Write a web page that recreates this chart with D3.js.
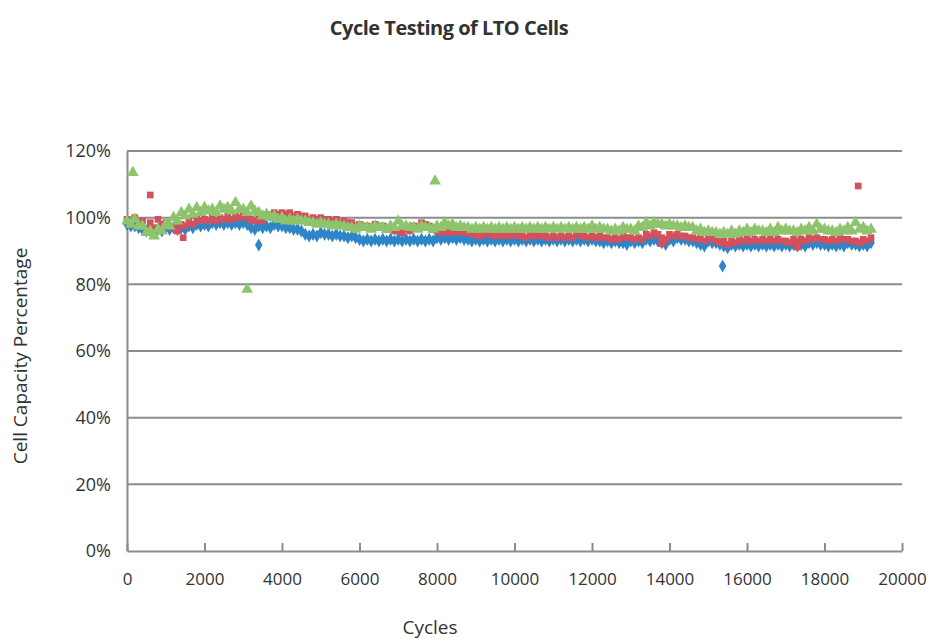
<!DOCTYPE html>
<html>
<head>
<meta charset="utf-8">
<script src="https://cdn.jsdelivr.net/npm/d3@7"></script>
<style>
  body { margin: 0; background: #fff; }
  text { font-family: "Open Sans", sans-serif; fill: #333; }
</style>
</head>
<body>
<svg></svg>
<script>
//data
const title = "Cycle Testing of LTO Cells";
const xLabel = "Cycles";
const yLabel = "Cell Capacity Percentage";
const xTicks = [0,2000,4000,6000,8000,10000,12000,14000,16000,18000,20000];
const yTicks = [0,0.2,0.4,0.6,0.8,1.0,1.2];
const step = 100; // cycles between samples

// blue (diamond), one row = 1000 cycles
const blue = [
  98,97.5,97.5,97,96.5,96,96,95.5,96.5,96,
  97,96.5,97,96.5,97,96.5,97.5,97,98,97.5,
  98,97.5,98.5,98,98.5,98,98.5,98,98.5,98,
  98.5,98,97,96.5,97.5,97,97.5,97,98,97.5,
  97.5,97,97,96.5,96.5,96,95,94.5,95,94.5,
  95.5,95,95,94.5,95,94.5,94.5,94,94.5,94,
  93.5,93,93.5,93,93.5,93,93.5,93,93.5,93,
  93.5,93,93.5,93,93.5,93,93.5,93,93.5,93,
  94,93.5,94,93.5,94,93.5,94,93.5,93.5,93,
  93.5,93,93.5,93,93.5,93,93.5,93,93.5,93,
  93.5,93,93.5,93,93.5,93,93.5,93,93.5,93,
  93.5,93,93.5,93,93.5,93,93.5,93,93.5,93,
  93.5,93,93,92.5,93,92.5,93,92.5,92.5,92,
  93,92.5,93,92.5,93.5,93,93.5,93,92.5,92,
  93.5,93,94,93.5,93.5,93,93,92.5,92,91.5,
  93,92.5,92.5,92,91.5,91,92,91.5,92,91.5,
  92,91.5,92,91.5,92,91.5,92,91.5,92,91.5,
  92,91.5,92,91.5,92,91.5,92.5,92,92.5,92,
  92,91.5,92,91.5,92,91.5,92.5,92,92,91.5,
  92,91.5,92.5];
// red (square)
const red = [
  99.5,98,100,97.5,99,96.5,98.5,97,99.5,98,
  98.5,97.5,97,96,98,97.5,99,98,99.5,99,
  99.5,99,100,99,100,99.5,100.5,99.5,100.5,100,
  101,100,99.5,99,99.5,99,101,100.5,101.5,101,
  101.5,101,101.5,100.5,101,100.5,100.5,99.5,100,99.5,
  100,99.5,99.5,99,99.5,98.5,99,98.5,98.5,97.5,
  98,97,97.5,97,98,97,97.5,96.5,96.5,96,
  96,95.5,96.5,96,97.5,97,98.5,98,97.5,96.5,
  96,95.5,96,95.5,96,95.5,96,95.5,95.5,95,
  95,94.5,95.5,95,95,94.5,95,94.5,95,94.5,
  95,94.5,94.5,94,95,94.5,95,94.5,94.5,94,
  94.5,94,94.5,94,94.5,94,95,94.5,94.5,94,
  94.5,94,94.5,94,94,93.5,94,93.5,94.5,94,
  94,93.5,94,93.5,95,94.5,95.5,95,94,93.5,
  95,94.5,95,94.5,94.5,94,94,93.5,94,93,
  94,93.5,93,92.5,93,92,93,92.5,93.5,93,
  93.5,93,93.5,93,93.5,93,93.5,93,93.5,93,
  93,92.5,93.5,93,93.5,93,94,93.5,94,93.5,
  93.5,93,93.5,93,94,93.5,93.5,93,93,92.5,
  93.5,93,94];
// green (triangle)
const green = [
  99,98,99.5,97.5,97.5,95.5,96,94.5,96.5,96,
  98,97.5,100,99,101.5,100.5,102.5,101,103,101.5,
  103,102,102.5,101.5,103.5,102.5,103,102,104.5,102.5,
  102.5,101.5,103.5,102,101.5,100.5,101,100,100.5,99.5,
  100,99,99.5,99,99.5,99,99,98.5,98.5,98,
  98.5,98,98,97.5,98,97.5,97.5,97,97,96.5,
  97.5,97,97,96.5,97.5,97,97,96.5,97.5,97,
  99,97.5,97.5,97,97,96.5,97.5,97,97,96.5,
  97.5,97,98.5,97.5,98,97,97.5,97,97,96.5,
  97,96.5,97,96.5,97,96.5,97,96.5,97,96.5,
  97,96.5,97,96.5,97,96.5,97,96.5,97,96.5,
  97,96.5,97,96.5,97,96.5,97,96.5,97,96.5,
  97.5,96.5,97,96.5,96.5,96,96.5,96,97,96.5,
  96.5,96,97.5,97,98.5,97.5,98.5,98,98,97.5,
  98,97.5,97.5,97,97.5,97,97,96,96.5,95.5,
  96,95.5,95.5,95,95.5,95,96,95,96,95.5,
  96.5,95.5,96.5,96,96,95.5,96.5,95.5,97,96,
  96.5,96,96,95.5,96.5,96,97,96,98,96.5,
  96.5,96,96,95.5,96.5,96,97,96,98.5,96.5,
  97,96,96.5];

// stray readings [cycle, percent]
const blueOut = [[3400,91.8],[15370,85.5]];
const redOut = [[600,106.8],[1450,94],[13800,92.2],[17300,91.2],[18870,109.5]];
const greenOut = [[150,113.5],[3100,78.5],[7950,111]];

//setting
const Width = 927, Height = 639;
const svg = d3.select("svg").attr("width", Width).attr("height", Height);

const x = d3.scaleLinear().domain([0, 20000]).range([127, 902]);
const y = d3.scaleLinear().domain([0, 1.2]).range([551, 151]);
const grid = "#8c8c8c";

// gridlines
svg.append("g")
  .selectAll("line")
  .data(yTicks.slice(1))
  .join("line")
  .attr("x1", x(0)).attr("x2", x(20000))
  .attr("y1", d => y(d)).attr("y2", d => y(d))
  .attr("stroke", grid).attr("stroke-width", 2);

// y axis
const yAxis = svg.append("g")
  .attr("transform", `translate(${x(0)},0)`)
  .call(d3.axisLeft(y).tickValues(yTicks).tickSize(0).tickPadding(16).tickFormat(d3.format(".0%")));
yAxis.select(".domain").attr("stroke", grid).attr("stroke-width", 2);
yAxis.selectAll("text").style("font-size", "18px");

// x axis, ticks point up into the plot
const xAxis = svg.append("g")
  .attr("transform", `translate(0,${y(0)})`)
  .call(d3.axisBottom(x).tickValues(xTicks).tickSizeInner(-8).tickSizeOuter(0).tickPadding(22).tickFormat(d3.format("d")));
xAxis.select(".domain").attr("stroke", grid).attr("stroke-width", 2);
xAxis.selectAll(".tick line").attr("stroke", grid).attr("stroke-width", 2);
xAxis.selectAll("text").style("font-size", "17px");

// series
function drawSeries(vals, outs, symbol, size, color) {
  const pts = vals.map((v, i) => [i * step, v]).concat(outs);
  svg.append("g")
    .selectAll("path")
    .data(pts)
    .join("path")
    .attr("d", d3.symbol().type(symbol).size(size))
    .attr("transform", d => `translate(${x(d[0])},${y(d[1] / 100)})`)
    .attr("fill", color);
}
drawSeries(blue, blueOut, d3.symbolDiamond, 50, "#2e85c7");
drawSeries(red, redOut, d3.symbolSquare, 45, "#d5505d");
drawSeries(green, greenOut, d3.symbolTriangle, 60, "#8dc46c");

// titles
svg.append("text").text(title)
  .attr("x", 449).attr("y", 35).attr("text-anchor", "middle")
  .style("font-size", "20px").style("font-weight", "bold").style("letter-spacing", "-0.5px");
svg.append("text").text(xLabel)
  .attr("x", 430).attr("y", 634).attr("text-anchor", "middle")
  .style("font-size", "19px");
svg.append("text").text(yLabel)
  .attr("transform", "translate(27,356) rotate(-90)").attr("text-anchor", "middle")
  .style("font-size", "19px");
</script>
</body>
</html>
